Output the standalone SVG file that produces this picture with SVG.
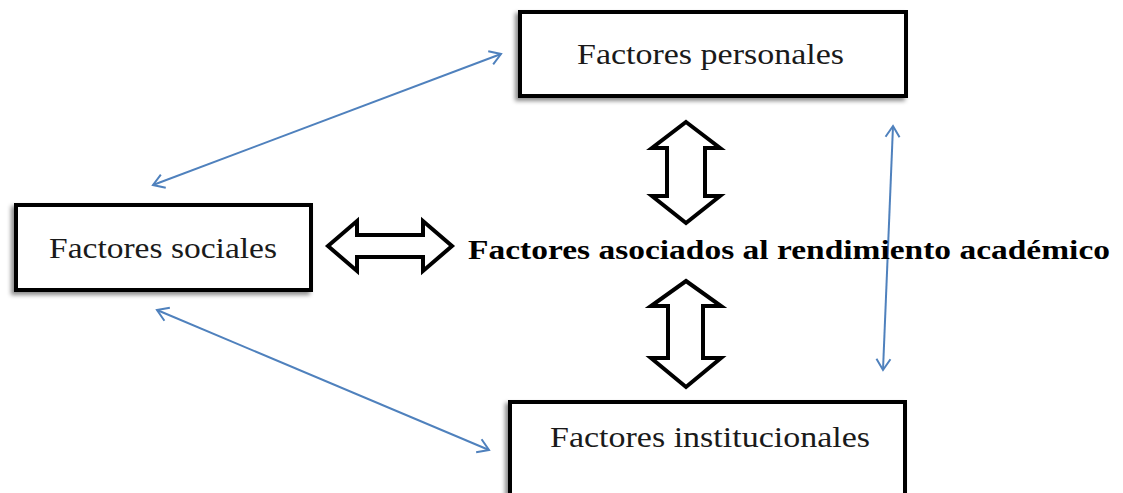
<svg xmlns="http://www.w3.org/2000/svg" width="1123" height="493" viewBox="0 0 1123 493">
<style>
.box{fill:#fff;stroke:#000;stroke-width:4;filter:url(#sh)}
.lbl{font-family:"Liberation Serif","Times New Roman",serif;font-size:30px;fill:#1a1a1a}
.main{font-family:"Liberation Serif","Times New Roman",serif;font-size:27px;font-weight:bold;fill:#000}
.blk{fill:#fff;stroke:#000;stroke-width:4;stroke-linejoin:miter}
.thin{stroke:#4f81bd;stroke-width:2;fill:none;marker-start:url(#ah);marker-end:url(#ah)}
</style>
<defs>
<filter id="sh" x="-10%" y="-10%" width="120%" height="130%">
<feDropShadow dx="-3" dy="3" stdDeviation="2" flood-color="#000" flood-opacity="0.45"/>
</filter>
<marker id="ah" markerUnits="userSpaceOnUse" viewBox="-14 -9 16 18" refX="0" refY="0" markerWidth="16" markerHeight="18" orient="auto-start-reverse">
<path d="M-11,-7 L0,0 L-11,7" fill="none" stroke="#4f81bd" stroke-width="2"/>
</marker>
</defs>
<rect width="1123" height="493" fill="#fff"/>
<g id="connectors">
<line class="thin" x1="153" y1="185" x2="501" y2="54"/>
<line class="thin" x1="157" y1="310" x2="489" y2="450"/>
<line class="thin" x1="893" y1="126" x2="883" y2="370"/>
<path class="blk" d="M328,246 L357,221 L357,235 L423,235 L423,221 L452,246 L423,271 L423,257 L357,257 L357,271 Z"/>
<path class="blk" d="M686,122 L720,148 L705,148 L705,196 L720,196 L686,223 L652,196 L667,196 L667,148 L652,148 Z"/>
<path class="blk" d="M686,281 L721,306 L703,306 L703,358 L721,358 L686,387 L651,358 L668,358 L668,306 L651,306 Z"/>
</g>
<g id="personales">
<rect class="box" x="520" y="12" width="386" height="84"/>
<text class="lbl" x="577" y="64" textLength="267" lengthAdjust="spacingAndGlyphs">Factores personales</text>
</g>
<g id="sociales">
<rect class="box" x="16" y="205" width="295" height="85"/>
<text class="lbl" x="49" y="258" textLength="228" lengthAdjust="spacingAndGlyphs">Factores sociales</text>
</g>
<g id="institucionales">
<rect class="box" x="510" y="402" width="395" height="100"/>
<text class="lbl" x="550" y="447" textLength="320" lengthAdjust="spacingAndGlyphs">Factores institucionales</text>
</g>
<g id="centro">
<text class="main" x="468" y="259" textLength="642" lengthAdjust="spacingAndGlyphs">Factores asociados al rendimiento académico</text>
</g>
</svg>
